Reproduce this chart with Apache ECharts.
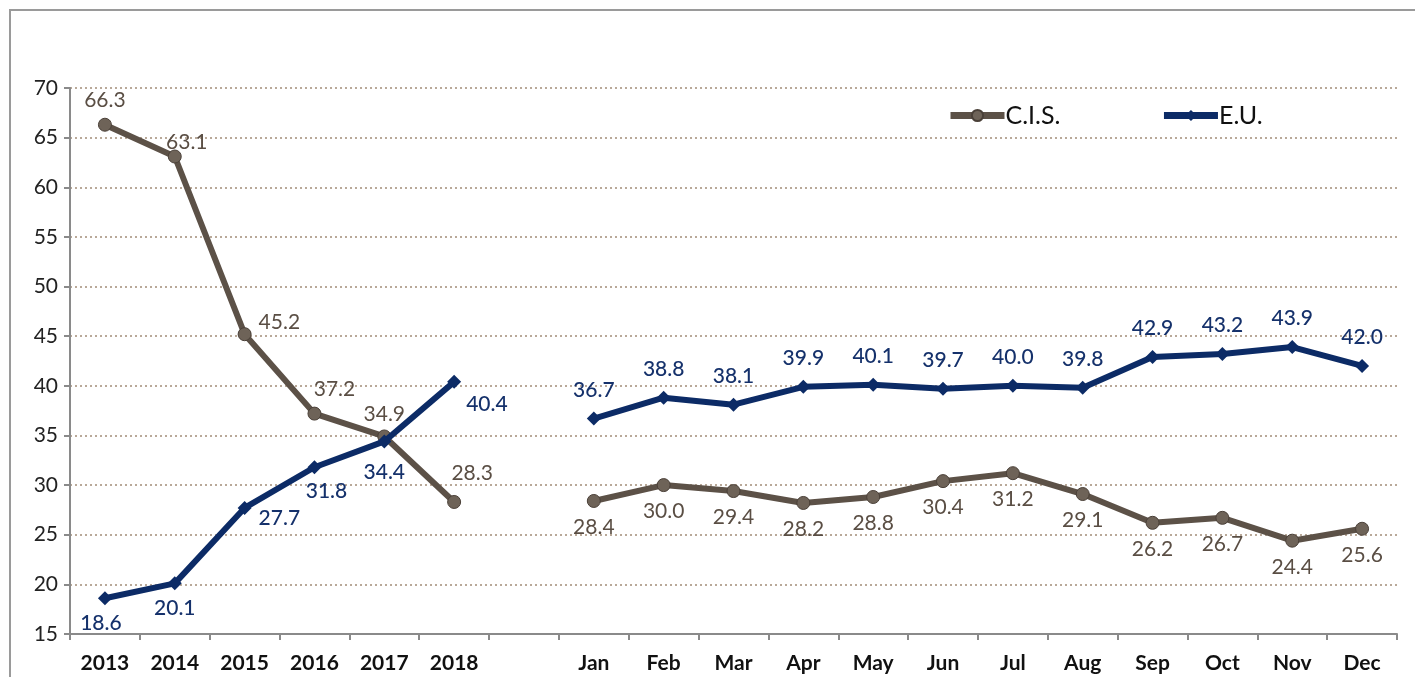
<!DOCTYPE html>
<html>
<head>
<meta charset="utf-8">
<script src="https://cdn.jsdelivr.net/npm/echarts@6/dist/echarts.min.js"></script>
<style>html,body{margin:0;padding:0;background:#fff}#c{width:1415px;height:677px}</style>
</head>
<body>
<div id="c"></div>
<script>
const categories = ['2013','2014','2015','2016','2017','2018','','Jan','Feb','Mar','Apr','May','Jun','Jul','Aug','Sep','Oct','Nov','Dec'];
const cisValues = [66.3, 63.1, 45.2, 37.2, 34.9, 28.3, null, 28.4, 30.0, 29.4, 28.2, 28.8, 30.4, 31.2, 29.1, 26.2, 26.7, 24.4, 25.6];
const euValues  = [18.6, 20.1, 27.7, 31.8, 34.4, 40.4, null, 36.7, 38.8, 38.1, 39.9, 40.1, 39.7, 40.0, 39.8, 42.9, 43.2, 43.9, 42.0];
const yTicks = [15, 20, 25, 30, 35, 40, 45, 50, 55, 60, 65, 70];

const FONT = 'Lato, "Open Sans", sans-serif';
const CIS_C = '#5c5147';
const EU_C = '#0c2b66';

// label placement per point (style only)
const cisLabelPos = [
  {position:'top', offset:[0,-2]},
  {position:'top', offset:[12,8]},
  {position:'right', offset:[2,-12]},
  {position:'top', offset:[20,-2]},
  {position:'top', offset:[0,0]},
  {position:'top', offset:[18,-6]}
];
const euLabelPos = [
  {position:'bottom', offset:[-4,2]},
  {position:'bottom', offset:[0,2]},
  {position:'right', offset:[2,10]},
  {position:'bottom', offset:[12,2]},
  {position:'bottom', offset:[0,8]},
  {position:'right', offset:[0,22]}
];

function build(vals, posArr, defPos) {
  return vals.map((v, i) => {
    if (v === null) return '-';
    const p = i < posArr.length ? posArr[i] : defPos;
    return { value: v, label: { position: p.position, offset: p.offset } };
  });
}

const chart = echarts.init(document.getElementById('c'));
chart.setOption({
  animation: false,
  backgroundColor: '#fff',
  graphic: [{
    type: 'rect', shape: {x: 10, y: 10, width: 1430, height: 700},
    style: {fill: 'none', stroke: '#9a9a9a', lineWidth: 2}, silent: true
  }],
  legend: {
    data: ['C.I.S.', 'E.U.'],
    left: 942, top: 98,
    itemWidth: 54, itemHeight: 14, itemGap: 100,
    lineStyle: {width: 7},
    textStyle: {fontFamily: FONT, fontSize: 25, color: '#111', fontWeight: 'normal', padding:[0,0,0,-4]}
  },
  grid: {left: 70, right: 18, top: 88, bottom: 43, containLabel: false},
  xAxis: {
    type: 'category',
    data: categories,
    boundaryGap: true,
    axisLine: {lineStyle: {color: '#8a8a8a', width: 2}},
    axisTick: {show: true, length: 6, lineStyle: {color: '#8a8a8a', width: 2}, interval: 0},
    axisLabel: {interval: 0, fontFamily: FONT, fontSize: 21, fontWeight: 'bold', color: '#111', margin: 19},
    splitLine: {show: false}
  },
  yAxis: {
    type: 'value',
    min: yTicks[0], max: yTicks[yTicks.length - 1], interval: 5,
    axisLine: {show: true, lineStyle: {color: '#8a8a8a', width: 2}},
    axisTick: {show: true, length: 6, lineStyle: {color: '#8a8a8a', width: 2}},
    axisLabel: {fontFamily: FONT, fontSize: 21, color: '#222', margin: 12},
    splitLine: {show: true, lineStyle: {color: '#a38d78', type: [2, 3], width: 1.5}}
  },
  series: [
    {
      name: 'C.I.S.', type: 'line',
      data: build(cisValues, cisLabelPos, {position:'bottom', offset:[0,4]}),
      connectNulls: false,
      symbol: 'circle', symbolSize: 13,
      lineStyle: {color: CIS_C, width: 6},
      itemStyle: {color: '#6e6358', borderColor: '#4a4038', borderWidth: 1},
      label: {show: true, formatter: p => p.value.toFixed(1), fontFamily: FONT, fontSize: 21, color: '#5a4e44'},
      z: 2
    },
    {
      name: 'E.U.', type: 'line',
      data: build(euValues, euLabelPos, {position:'top', offset:[0,-6]}),
      connectNulls: false,
      symbol: 'diamond', symbolSize: 14,
      lineStyle: {color: EU_C, width: 6},
      itemStyle: {color: EU_C},
      label: {show: true, formatter: p => p.value.toFixed(1), fontFamily: FONT, fontSize: 21, fontWeight: 500, color: '#15316b'},
      z: 3
    }
  ]
});
</script>
</body>
</html>
